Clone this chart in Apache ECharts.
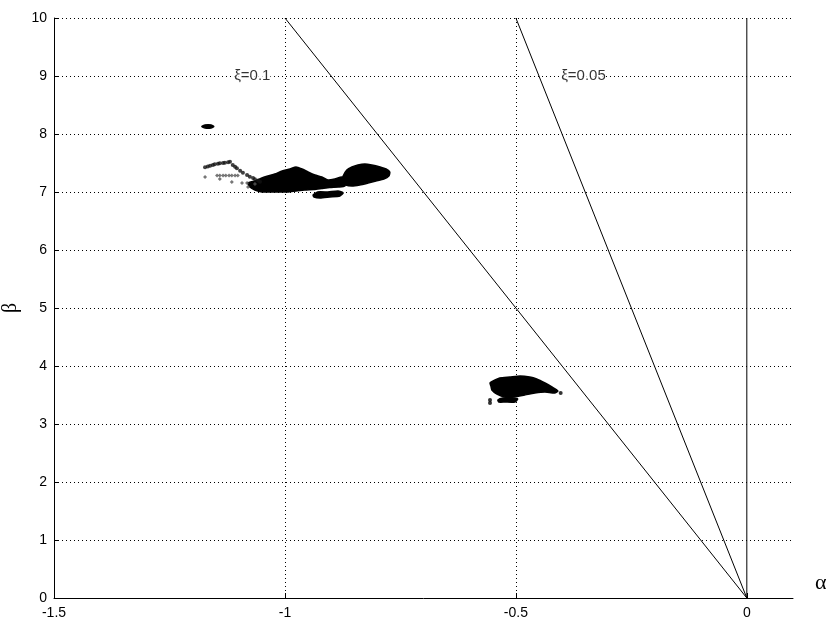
<!DOCTYPE html>
<html>
<head>
<meta charset="utf-8">
<script src="https://cdn.jsdelivr.net/npm/echarts@6/dist/echarts.min.js"></script>
<style>
  html, body { margin: 0; padding: 0; background: #fff; }
  #chart { width: 831px; height: 626px; }
</style>
</head>
<body>
<div id="chart"></div>
<script>
// Axis ticks
const xTickValues = [-1.5, -1, -0.5, 0];
const yTickValues = [0, 1, 2, 3, 4, 5, 6, 7, 8, 9, 10];

// Constant-damping rays from the origin and the imaginary axis
const rayXi010 = [[0, 0], [-1, 10]];
const rayXi005 = [[0, 0], [-0.5, 10]];
const rayXi000 = [[0, 0], [0, 10]];

// Ray annotations: [alpha, beta, text]
const rayLabels = [[-1.110, 9.0, 'ξ=0.1'], [-0.402, 9.0, 'ξ=0.05']];

// Dense pole clusters, outlined as [alpha, beta] polygons
const clusterTopLeft = [[-1.180, 8.129], [-1.173, 8.155], [-1.160, 8.155], [-1.154, 8.129], [-1.160, 8.103], [-1.173, 8.103]];
const clusterMain = [
  [-1.080, 7.155], [-1.065, 7.190], [-1.050, 7.241], [-1.037, 7.276], [-1.022, 7.310], [-1.006, 7.362],
  [-0.989, 7.397], [-0.976, 7.431], [-0.963, 7.397], [-0.950, 7.345], [-0.935, 7.293], [-0.920, 7.259],
  [-0.907, 7.207], [-0.892, 7.224], [-0.877, 7.259], [-0.870, 7.207], [-0.870, 7.103], [-0.885, 7.086],
  [-0.903, 7.077], [-0.920, 7.060], [-0.937, 7.043], [-0.957, 7.034], [-0.976, 7.017], [-0.994, 7.000],
  [-1.011, 7.000], [-1.032, 7.000], [-1.050, 7.000], [-1.065, 7.034], [-1.076, 7.086]
];
const clusterRight = [
  [-0.874, 7.276], [-0.866, 7.379], [-0.855, 7.431], [-0.842, 7.466], [-0.827, 7.483], [-0.812, 7.466],
  [-0.794, 7.431], [-0.781, 7.397], [-0.773, 7.345], [-0.775, 7.276], [-0.786, 7.224], [-0.803, 7.190],
  [-0.820, 7.155], [-0.838, 7.121], [-0.855, 7.103], [-0.868, 7.121], [-0.877, 7.190]
];
const clusterBelow = [
  [-0.939, 6.948], [-0.929, 7.000], [-0.907, 7.000], [-0.885, 7.017], [-0.874, 6.983], [-0.881, 6.931],
  [-0.903, 6.914], [-0.924, 6.897], [-0.937, 6.914]
];
const clusterLow = [
  [-0.556, 3.707], [-0.545, 3.759], [-0.535, 3.793], [-0.513, 3.810], [-0.491, 3.828], [-0.470, 3.810],
  [-0.455, 3.776], [-0.437, 3.707], [-0.422, 3.638], [-0.409, 3.569], [-0.416, 3.534], [-0.437, 3.552],
  [-0.459, 3.534], [-0.481, 3.500], [-0.502, 3.466], [-0.524, 3.466], [-0.541, 3.517], [-0.552, 3.586],
  [-0.554, 3.655]
];
const clusterLowTail = [
  [-0.539, 3.414], [-0.528, 3.448], [-0.509, 3.448], [-0.496, 3.431], [-0.502, 3.379], [-0.524, 3.379],
  [-0.537, 3.379]
];

// Individual pole traces
const traceChain = [
  [-1.173, 7.426], [-1.167, 7.440], [-1.162, 7.453], [-1.156, 7.466], [-1.152, 7.478], [-1.145, 7.486],
  [-1.141, 7.495], [-1.134, 7.500], [-1.130, 7.505], [-1.123, 7.514], [-1.119, 7.522], [-1.113, 7.466],
  [-1.108, 7.436], [-1.104, 7.409], [-1.097, 7.367], [-1.091, 7.333], [-1.082, 7.293], [-1.076, 7.264],
  [-1.069, 7.241], [-1.065, 7.219], [-1.058, 7.198], [-1.054, 7.178]
];
const traceSparse = [
  [-1.147, 7.284], [-1.141, 7.284], [-1.134, 7.284], [-1.128, 7.284], [-1.121, 7.284], [-1.115, 7.284],
  [-1.108, 7.284], [-1.102, 7.284], [-1.173, 7.259], [-1.141, 7.224], [-1.115, 7.172], [-1.093, 7.155],
  [-1.082, 7.155], [-1.080, 7.086], [-1.065, 7.138]
];
const traceLowDots = [[-0.403, 3.534], [-0.556, 3.414], [-0.556, 3.362]];

const clusters = [clusterTopLeft, clusterMain, clusterRight, clusterBelow, clusterLow, clusterLowTail];

const FONT = "'Liberation Sans', Arial, sans-serif";
const SERIF = "'Liberation Serif', 'DejaVu Serif', serif";
const gridDots = { color: '#000', width: 1, type: [1, 3] };
const ray = { color: '#000', width: 1 };

const chart = echarts.init(document.getElementById('chart'), null, { renderer: 'canvas' });

chart.setOption({
  backgroundColor: '#fff',
  animation: false,
  grid: { left: 54, right: 38, top: 18, bottom: 28, containLabel: false, outerBoundsMode: 'none' },
  xAxis: {
    type: 'value', min: -1.5, max: 0.1, interval: 0.5,
    name: 'α', nameLocation: 'end', nameGap: 22,
    nameTextStyle: { fontFamily: SERIF, fontSize: 22, color: '#000', verticalAlign: 'bottom', padding: [0, 0, 4, 0] },
    axisLine: { lineStyle: { color: '#000', width: 1 }, onZero: false },
    axisTick: { inside: true, length: 5, lineStyle: { color: '#000' }, customValues: xTickValues },
    axisLabel: { color: '#000', fontFamily: FONT, fontSize: 14, margin: 8, customValues: xTickValues,
      formatter: v => String(v) },
    splitLine: { show: true, showMinLine: false, showMaxLine: false, lineStyle: gridDots }
  },
  yAxis: {
    type: 'value', min: 0, max: 10, interval: 1,
    name: 'β', nameLocation: 'middle', nameGap: 30, nameRotate: 90,
    nameTextStyle: { fontFamily: SERIF, fontSize: 20, color: '#000' },
    axisLine: { lineStyle: { color: '#000', width: 1 }, onZero: false },
    axisTick: { inside: true, length: 5, lineStyle: { color: '#000' }, customValues: yTickValues },
    axisLabel: { color: '#000', fontFamily: FONT, fontSize: 14, margin: 7, customValues: yTickValues },
    splitLine: { show: true, showMinLine: false, showMaxLine: true, lineStyle: gridDots }
  },
  series: [
    { type: 'line', data: rayXi010, symbol: 'none', lineStyle: ray, silent: true, z: 3 },
    { type: 'line', data: rayXi005, symbol: 'none', lineStyle: ray, silent: true, z: 3 },
    { type: 'line', data: rayXi000, symbol: 'none', lineStyle: ray, silent: true, z: 3 },
    {
      type: 'custom', z: 4, silent: true,
      data: clusters.map((c, i) => [c[0][0], c[0][1], i]),
      renderItem: (params, api) => {
        const pts = clusters[params.dataIndex].map(p => api.coord(p));
        return {
          type: 'polygon',
          shape: { points: pts, smooth: 0.2 },
          style: { fill: '#000', stroke: '#000', lineWidth: 1.5 }
        };
      }
    },
    { type: 'scatter', data: traceChain, symbol: 'circle', symbolSize: 4,
      itemStyle: { color: '#111' }, silent: true, z: 4 },
    { type: 'scatter', data: traceSparse, symbol: 'diamond', symbolSize: 4,
      itemStyle: { color: '#555' }, silent: true, z: 4 },
    { type: 'scatter', data: traceLowDots, symbol: 'circle', symbolSize: 4,
      itemStyle: { color: '#000' }, silent: true, z: 4 },
    {
      type: 'scatter', data: rayLabels, symbolSize: 0, silent: true, z: 5,
      label: { show: true, position: 'right', distance: 0, color: '#000', fontFamily: FONT, fontSize: 15,
        backgroundColor: '#fff', formatter: p => p.data[2] }
    }
  ]
});
</script>
</body>
</html>
